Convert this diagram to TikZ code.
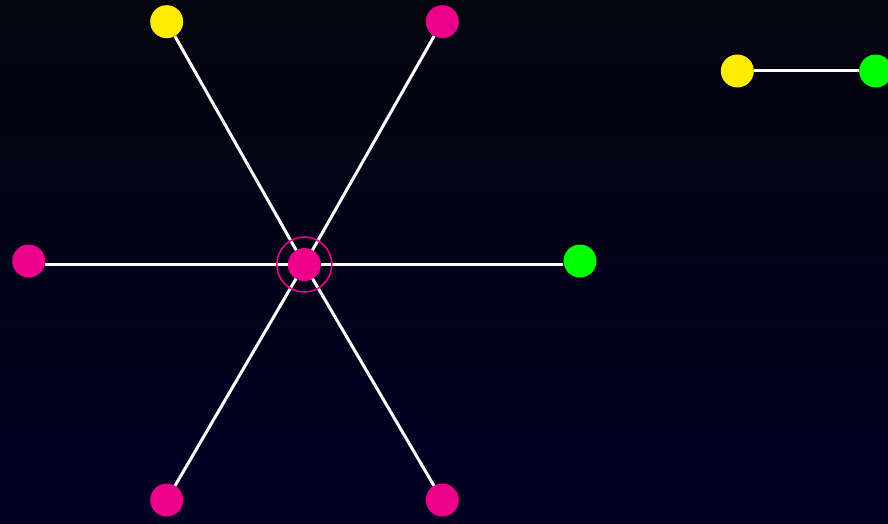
\documentclass[tikz,border=0pt]{standalone}
\definecolor{bgtop}{RGB}{4,5,14}
\definecolor{bgbot}{RGB}{1,1,36}
\definecolor{nodepink}{RGB}{236,0,140}
\definecolor{nodeyellow}{RGB}{255,236,0}
\definecolor{nodegreen}{RGB}{0,255,0}
\tikzset{
  dot/.style={circle, minimum size=33pt, inner sep=0pt, outer sep=0pt},
  pinkdot/.style={dot, fill=nodepink},
  yellowdot/.style={dot, fill=nodeyellow},
  greendot/.style={dot, fill=nodegreen},
  link/.style={draw=white, line width=3pt},
  ring/.style={draw=nodepink, line width=1.6pt}
}
\begin{document}
\begin{tikzpicture}[x=1pt,y=-1pt]
\shade[top color=bgtop, bottom color=bgbot] (0,0) rectangle (888,524);
\useasboundingbox (0,0) rectangle (888,524);
% nodes
\node[pinkdot] (c) at (304.3,264.5) {};
\node[yellowdot] (tl) at (166.7,21.7) {};
\node[pinkdot] (tr) at (442.3,21.7) {};
\node[pinkdot] (l) at (28.7,261) {};
\node[greendot] (r) at (580,261) {};
\node[pinkdot] (bl) at (166.7,500) {};
\node[pinkdot] (br) at (442.3,500) {};
\node[yellowdot] (y2) at (737.3,71) {};
\node[greendot] (g2) at (875.7,71) {};
% links
\draw[link] (c) -- (tl);
\draw[link] (c) -- (tr);
\draw[link] (c.west) -- (l.east |- c.west);
\draw[link] (c.east) -- ([xshift=-1pt]r.west |- c.east);
\draw[link] (c) -- (bl);
\draw[link] (c) -- (br);
\draw[link] (y2) -- (g2);
% selection ring
\draw[ring] (c.center) circle (27.5);
\end{tikzpicture}
\end{document}
